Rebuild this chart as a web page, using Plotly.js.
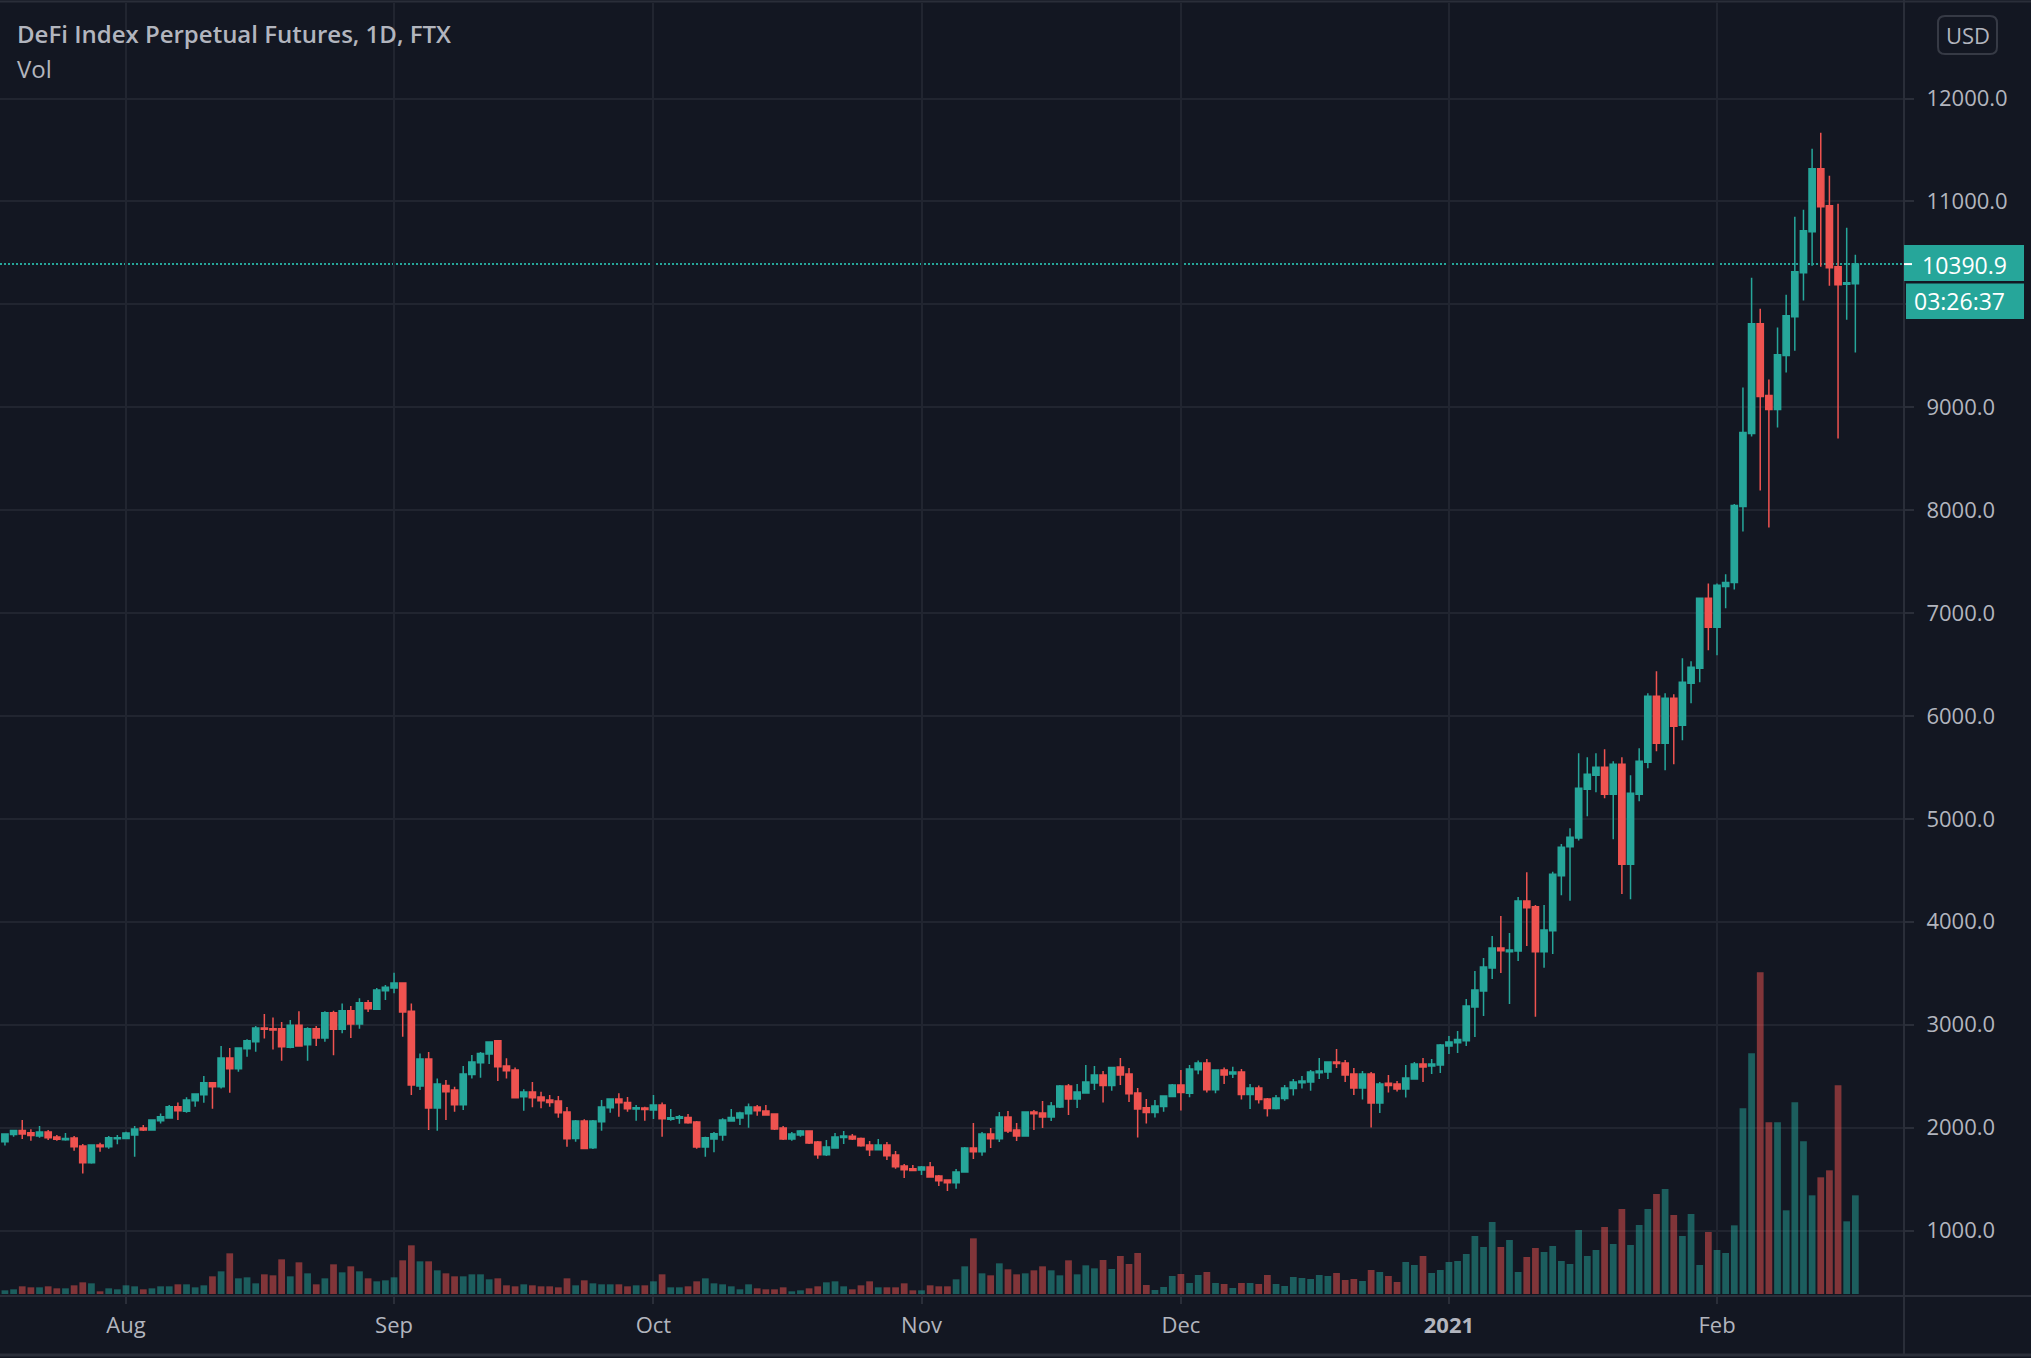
<!DOCTYPE html>
<html>
<head>
<meta charset="utf-8">
<script src="https://cdn.plot.ly/plotly-3.0.1.min.js"></script>
<style>
html,body{margin:0;padding:0;background:#131722;overflow:hidden}
#chart{width:2031px;height:1358px}
</style>
</head>
<body>
<div id="chart"></div>
<script>
// ---------- DATA ----------
const startDate = '2020-07-18';
const chartTitle = 'DeFi Index Perpetual Futures, 1D, FTX';
const volumeLabel = 'Vol';
const currency = 'USD';
const countdown = '03:26:37';

const open = [
  1863,1934,1973,1950,1918,1957,1908,1882,1898,1821,1659,1830,1814,1892,
  1895,1928,1996,1976,2067,2093,2203,2158,2261,2320,2436,2397,2676,2572,2767,2835,2968,2961,2961,2780,2994,2806,2961,2870,3117,2955,3136,3007,3214,3149,3330,
  3356,3405,3130,2404,2666,2190,2410,2365,2222,2517,2631,2715,2845,2598,2559,2300,2346,2297,2268,2258,2151,1895,2064,1804,2057,2193,2278,2245,2180,2190,
  2171,2219,2080,2090,2099,2054,1811,1889,1928,2064,2093,2135,2200,2161,2132,1996,1889,1928,1967,1860,1736,1801,1905,1915,1895,1830,1785,1830,1733,1626,1600,
  1587,1617,1529,1490,1464,1568,1801,1766,1937,1892,2103,1976,1918,2151,2141,2103,2200,2404,2278,2336,2433,2511,2408,2589,2521,2337,2194,2146,2204,2301,
  2414,2333,2563,2628,2369,2560,2521,2540,2321,2385,2279,2185,2282,2379,2437,2443,2534,2540,2638,2628,2521,2385,2521,2240,2431,2424,2376,2473,2618,2599,2609,
  2793,2825,2845,3172,3327,3550,3744,3709,3715,4201,4146,3709,3913,4447,4728,4813,5288,5424,5502,5240,5531,4560,5240,5550,6191,5735,6172,5910,6317,6463,7143,
  6861,7259,7298,8036,8745,9812,9113,8978,9502,9880,10307,10706,11317,10958,10366,10194,10201
];
const high = [
  1940,1976,2073,1983,2015,1976,1928,1947,1918,1840,1837,1853,1918,1928,
  1960,2015,2025,2080,2138,2219,2245,2294,2326,2501,2436,2793,2773,2780,2858,2987,3104,3071,3026,3045,3130,2974,2987,3130,3136,3207,3181,3256,3240,3356,3386,
  3505,3405,3207,2721,2734,2478,2462,2397,2598,2705,2734,2832,2851,2673,2585,2372,2443,2349,2316,2307,2200,2073,2080,2073,2268,2278,2333,2297,2219,2203,
  2316,2245,2180,2122,2132,2064,1911,1957,2090,2180,2154,2235,2219,2219,2132,2015,1957,1976,1967,1869,1879,1947,1967,1937,1905,1869,1889,1860,1772,1646,1636,
  1626,1665,1539,1490,1597,1811,2044,1957,1996,2151,2161,2044,2151,2171,2258,2248,2414,2423,2423,2608,2598,2550,2592,2677,2579,2385,2279,2269,2308,2424,
  2560,2609,2651,2667,2560,2583,2592,2570,2424,2408,2288,2317,2414,2473,2502,2560,2677,2638,2764,2657,2579,2550,2540,2443,2511,2453,2609,2638,2677,2667,2812,
  2890,2939,3249,3521,3647,3861,4055,3890,4240,4482,4162,4162,4486,4757,4909,5638,5599,5638,5677,5560,5599,5424,5686,6220,6434,6220,6211,6560,6531,7143,7288,
  7288,7376,8060,9191,10259,9958,9269,9774,10094,10851,10919,11511,11667,11249,10977,10744,10482
];
const low = [
  1825,1911,1889,1873,1902,1879,1873,1873,1775,1555,1649,1766,1795,1837,
  1889,1717,1967,1970,2041,2086,2073,2145,2203,2242,2184,2381,2339,2543,2689,2738,2867,2760,2650,2770,2786,2650,2793,2835,2702,2916,2870,2961,3123,3143,3240,
  3305,2883,2316,2365,1976,1970,2073,2154,2171,2478,2485,2618,2452,2478,2284,2164,2197,2187,2203,2096,1814,1863,1792,1792,1970,2145,2106,2155,2067,2067,
  2083,1912,2067,2038,2038,1795,1717,1760,1873,2057,2025,1999,2115,2115,1976,1879,1873,1911,1840,1698,1723,1801,1840,1879,1814,1723,1782,1685,1600,1510,1575,
  1539,1519,1432,1383,1406,1561,1694,1727,1801,1860,1947,1869,1911,1976,1996,2064,2190,2122,2190,2336,2365,2243,2359,2414,2249,1903,2039,2097,2155,2301,
  2165,2295,2518,2340,2333,2424,2482,2272,2181,2233,2107,2175,2262,2311,2379,2359,2473,2473,2579,2443,2317,2272,2000,2142,2340,2350,2292,2466,2443,2521,2531,
  2715,2725,2793,2880,3084,3443,3502,3201,3618,3764,3078,3553,3686,4259,4204,4790,5026,5259,5201,4803,4269,4220,5172,5492,5657,5473,5531,5764,6123,6327,6638,
  6589,7046,7230,7793,8716,8191,7832,8803,9337,9550,10036,10375,10366,10181,8696,9851,9531
];
const close = [
  1937,1973,1937,1924,1957,1902,1886,1895,1814,1659,1830,1814,1902,1902,
  1947,1986,1976,2073,2106,2203,2164,2268,2326,2436,2397,2676,2572,2773,2845,2968,2955,2948,2786,2994,2793,2961,2870,3117,2955,3136,3007,3214,3155,3337,3363,
  3405,3123,2414,2666,2190,2423,2349,2222,2521,2637,2721,2832,2592,2553,2290,2346,2290,2261,2245,2145,1892,2064,1798,2064,2200,2278,2242,2184,2193,2177,
  2219,2086,2096,2106,2048,1811,1902,1941,2073,2099,2141,2200,2164,2122,1986,1889,1937,1967,1850,1736,1811,1908,1918,1889,1824,1785,1830,1727,1620,1591,1584,
  1617,1519,1484,1464,1568,1801,1766,1937,1892,2103,1967,1918,2151,2135,2103,2209,2404,2278,2346,2443,2511,2408,2583,2511,2330,2181,2146,2210,2308,2414,
  2340,2570,2628,2369,2560,2511,2540,2321,2385,2272,2185,2288,2385,2443,2453,2540,2550,2638,2622,2511,2385,2521,2240,2424,2408,2376,2482,2618,2589,2618,2803,
  2832,2855,3181,3337,3560,3744,3718,3725,4201,4136,3709,3919,4463,4725,4822,5298,5434,5502,5240,5531,4560,5250,5560,6191,5735,6172,5900,6327,6473,7143,6861,
  7269,7298,8046,8754,9812,9104,8978,9511,9890,10317,10715,11317,10948,10356,10191,10210,10390.9
];
const volume = [
  1.1,1.4,2.3,2.0,2.0,2.3,1.7,1.7,2.6,3.5,3.2,0.8,1.7,1.4,
  2.6,2.3,1.4,1.7,2.3,2.3,2.9,2.9,2.0,2.6,5.3,6.8,12.2,4.7,5.0,3.2,5.9,5.6,10.4,5.3,9.5,6.2,2.9,4.7,8.9,6.5,8.3,6.8,4.7,3.8,4.1,
  5.0,10.1,14.6,9.8,9.8,7.1,6.2,5.3,5.3,5.9,5.9,4.4,4.7,2.6,2.3,2.9,2.6,2.3,2.3,2.0,4.7,2.6,4.1,3.2,2.9,2.9,2.9,2.3,2.6,2.6,
  3.8,5.9,2.0,2.0,2.3,3.8,4.7,3.2,2.9,2.3,1.4,2.9,1.7,1.4,1.4,2.0,0.8,1.1,1.7,2.3,3.5,3.8,2.3,1.4,2.6,3.8,2.0,2.0,2.0,3.2,1.1,
  1.1,2.6,2.3,2.3,4.4,8.3,16.7,6.2,5.6,9.2,7.4,5.9,6.2,7.1,8.3,7.1,5.6,10.1,5.9,8.6,7.7,10.2,7.5,11.4,9.0,12.3,2.7,1.2,2.1,5.4,
  6.0,3.3,5.7,6.6,3.3,3.0,1.8,3.3,3.3,3.0,5.7,3.0,2.4,5.1,4.8,4.5,5.7,5.4,6.3,4.2,4.5,3.9,7.2,6.6,5.4,3.6,9.6,8.7,11.4,6.3,7.2,
  9.6,9.9,12.0,17.4,14.1,21.6,14.1,16.2,6.6,11.1,13.8,12.6,14.4,9.9,9.0,19.2,11.4,13.2,20.1,15.0,25.5,14.7,20.7,25.5,30.0,31.5,23.7,17.4,24.0,8.7,18.6,
  13.2,12.3,20.6,55.7,72.2,96.5,51.5,51.5,25.1,57.5,45.8,29.6,35.0,37.1,62.6,21.8,29.6
];
const tickDates = ['2020-08-01','2020-09-01','2020-10-01','2020-11-01','2020-12-01','2021-01-01','2021-02-01'];
const tickLabels = ['Aug','Sep','Oct','Nov','Dec','<b>2021</b>','Feb'];
const priceTicks = [1000,2000,3000,4000,5000,6000,7000,8000,9000,10000,11000,12000];

// ---------- LAYOUT GEOMETRY (pixels) ----------
const W = 2031, H = 1358;
const plotL = 0, plotR = 1904, plotT = 3, plotB = 1296;
const pw = plotR - plotL, ph = plotB - plotT;
const px2x = p => (p - plotL) / pw;
const px2y = p => (plotB - p) / ph;
const pxPerDay = (1717 - 126) / 184;       // Aug 1 -> Feb 1
const pxPerPrice = 0.10291;
const dayMs = 86400000;

// dates for the daily candles
const dates = [];
{
  const t0 = Date.parse(startDate + 'T00:00:00Z');
  for (let i = 0; i < open.length; i++) dates.push(new Date(t0 + i * dayMs).toISOString().slice(0, 10));
}
const fmt = ms => new Date(ms).toISOString().replace('T', ' ').replace('Z', '');
const aug1 = Date.parse('2020-08-01T00:00:00Z');
const xStart = aug1 - (126 - plotL) / pxPerDay * dayMs;
const xEnd = xStart + pw / pxPerDay * dayMs;

// price axis range (12000 sits at y=98.5 px)
const pTop = 12000 + (98.5 - plotT) / pxPerPrice;
const pBot = 12000 - (plotB - 98.5) / pxPerPrice;

const volColors = close.map((c, i) => c >= open[i] ? 'rgba(38,166,154,0.5)' : 'rgba(239,83,80,0.5)');
const lastClose = close[close.length - 1];
const pu = px => px / pxPerPrice; // pixel offset -> price units

// tick labels hidden behind the last-price / countdown boxes (as in the reference)
const priceTickText = priceTicks.map(v => {
  const d = (lastClose - v) * pxPerPrice; // px below the last price line
  return (d > -30 && d < 66) ? '' : v.toFixed(1);
});

const txt = '#b2b5be', line = '#2a2e39', grid = '#212530';
const font = 'Open Sans, Noto Sans, sans-serif';

const traces = [
  {
    type: 'bar', x: dates, y: volume, xaxis: 'x', yaxis: 'y',
    marker: {color: volColors, line: {width: 0}}, hoverinfo: 'skip', showlegend: false
  },
  {
    type: 'candlestick', x: dates, open: open, high: high, low: low, close: close,
    xaxis: 'x', yaxis: 'y2', whiskerwidth: 0, hoverinfo: 'skip', showlegend: false,
    increasing: {line: {color: '#26a69a', width: 1.5}, fillcolor: '#26a69a'},
    decreasing: {line: {color: '#ef5350', width: 1.5}, fillcolor: '#ef5350'}
  }
];

function roundRect(x0, y0, x1, y1, r) {
  const X = v => px2x(v), Y = v => px2y(v);
  return `M ${X(x0 + r)},${Y(y0)} L ${X(x1 - r)},${Y(y0)} Q ${X(x1)},${Y(y0)} ${X(x1)},${Y(y0 + r)} ` +
         `L ${X(x1)},${Y(y1 - r)} Q ${X(x1)},${Y(y1)} ${X(x1 - r)},${Y(y1)} L ${X(x0 + r)},${Y(y1)} ` +
         `Q ${X(x0)},${Y(y1)} ${X(x0)},${Y(y1 - r)} L ${X(x0)},${Y(y0 + r)} Q ${X(x0)},${Y(y0)} ${X(x0 + r)},${Y(y0)} Z`;
}

const shapes = [
  // pane frame
  {type: 'line', xref: 'paper', yref: 'paper', x0: px2x(0), x1: px2x(W), y0: px2y(1.5), y1: px2y(1.5), line: {color: line, width: 2}},
  {type: 'line', xref: 'paper', yref: 'paper', x0: px2x(0), x1: px2x(W), y0: px2y(plotB), y1: px2y(plotB), line: {color: line, width: 2}},
  {type: 'line', xref: 'paper', yref: 'paper', x0: px2x(0), x1: px2x(W), y0: px2y(1355), y1: px2y(1355), line: {color: line, width: 3}},
  {type: 'line', xref: 'paper', yref: 'paper', x0: 1, x1: 1, y0: px2y(1355), y1: px2y(0), line: {color: line, width: 2}},
  // last price dotted line
  {type: 'line', xref: 'paper', yref: 'y2', x0: 0, x1: 1, y0: lastClose, y1: lastClose, layer: 'below',
   line: {color: '#26a69a', width: 2, dash: '2px,2px'}},
  // last price label box + countdown box
  {type: 'rect', xref: 'paper', yref: 'y2', x0: px2x(1904), x1: px2x(2024), y0: lastClose - pu(17), y1: lastClose + pu(19),
   fillcolor: '#26a69a', line: {width: 0}, layer: 'above'},
  {type: 'rect', xref: 'paper', yref: 'y2', x0: px2x(1906), x1: px2x(2024), y0: lastClose - pu(55), y1: lastClose - pu(19.5),
   fillcolor: '#26a69a', line: {width: 0}, layer: 'above'},
  {type: 'line', xref: 'paper', yref: 'y2', x0: px2x(1904), x1: px2x(1912), y0: lastClose, y1: lastClose,
   line: {color: '#ffffff', width: 2}, layer: 'above'},
  // currency box
  {type: 'path', xref: 'paper', yref: 'paper', path: roundRect(1938, 16, 1997, 54, 7),
   line: {color: '#363a45', width: 2}, fillcolor: 'rgba(0,0,0,0)'}
];

const annotations = [
  {xref: 'paper', yref: 'paper', x: px2x(15), y: px2y(34), xanchor: 'left', yanchor: 'middle', showarrow: false,
   text: chartTitle, font: {family: font, size: 24, color: txt, weight: 600}},
  {xref: 'paper', yref: 'paper', x: px2x(15), y: px2y(68), xanchor: 'left', yanchor: 'middle', showarrow: false,
   text: volumeLabel, font: {family: font, size: 24, color: txt}},
  {xref: 'paper', yref: 'paper', x: px2x(1967.5), y: px2y(35), xanchor: 'center', yanchor: 'middle', showarrow: false,
   text: currency, font: {family: font, size: 22, color: txt}},
  {xref: 'paper', yref: 'y2', x: px2x(1920), y: lastClose, yshift: -1, xanchor: 'left', yanchor: 'middle', showarrow: false,
   text: lastClose.toFixed(1), font: {family: font, size: 23, color: '#ffffff'}},
  {xref: 'paper', yref: 'y2', x: px2x(1912), y: lastClose, yshift: -37, xanchor: 'left', yanchor: 'middle', showarrow: false,
   text: countdown, font: {family: font, size: 23, color: '#ffffff'}}
];

const layout = {
  width: W, height: H,
  paper_bgcolor: '#131722', plot_bgcolor: '#131722',
  margin: {l: plotL, r: W - plotR, t: plotT, b: H - plotB, pad: 0},
  showlegend: false, hovermode: false, dragmode: false,
  boxgap: 0.28, boxgroupgap: 0, bargap: 0.22,
  xaxis: {
    type: 'date', range: [fmt(xStart), fmt(xEnd)], rangeslider: {visible: false},
    tickmode: 'array', tickvals: tickDates, ticktext: tickLabels,
    showgrid: true, gridcolor: grid, gridwidth: 2, zeroline: false, showline: false,
    ticks: 'outside', ticklen: 7, tickwidth: 2, tickcolor: line,
    ticklabelstandoff: 3,
    tickfont: {family: font, size: 22, color: txt}, fixedrange: true
  },
  yaxis: {range: [-0.6, ph * 3 / 10 - 0.6], visible: false, fixedrange: true},
  yaxis2: {
    overlaying: 'y', side: 'right', range: [pBot, pTop],
    tickmode: 'array', tickvals: priceTicks, ticktext: priceTickText,
    showgrid: true, gridcolor: grid, gridwidth: 2, zeroline: false, showline: false,
    ticks: 'outside', ticklen: 9, tickwidth: 2, tickcolor: line,
    ticklabelstandoff: 8,
    tickfont: {family: font, size: 22, color: txt}, fixedrange: true
  },
  shapes: shapes,
  annotations: annotations
};

Plotly.newPlot('chart', traces, layout, {displayModeBar: false, staticPlot: true});
</script>
</body>
</html>
